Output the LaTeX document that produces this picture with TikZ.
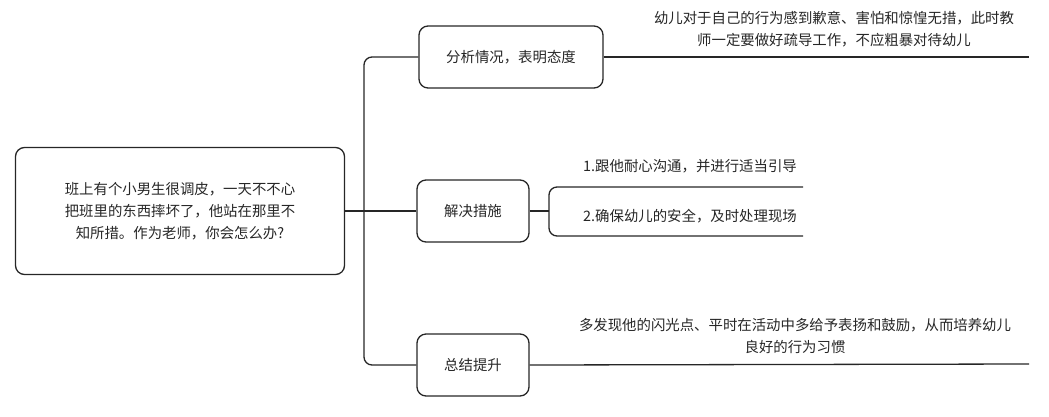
\documentclass[tikz,border=0pt]{standalone}
\usepackage{fontspec}
\setmainfont{Noto Sans CJK SC}
\usetikzlibrary{positioning, calc}

\begin{document}
\begin{tikzpicture}[x=1pt, y=-1pt,
    topic/.style={draw=black!85, line width=1.3pt, rounded corners=9pt, align=center,
        inner sep=0pt, font=\fontsize{14.4}{22}\selectfont, text=black!85},
    note/.style={align=center, inner sep=0pt, font=\fontsize{14.4}{22.5}\selectfont, text=black!85},
    link/.style={draw=black!85, line width=1.3pt, rounded corners=8pt}
  ]
    \useasboundingbox (0,0) rectangle (1049,416);

    % Central question
    \node[topic, minimum width=329pt, minimum height=127pt] (root) at (180,211)
        {班上有个小男生很调皮，一天不不心\\把班里的东西摔坏了，他站在那里不\\知所措。作为老师，你会怎么办?};

    % Three branches
    \node[topic, minimum width=184pt, minimum height=62pt] (analyse) at (511,57) {分析情况，表明态度};
    \node[topic, minimum width=112pt, minimum height=62pt] (solve) at (473,211) {解决措施};
    \node[topic, minimum width=112pt, minimum height=62pt] (sum) at (473,365) {总结提升};

    % Trunk
    \coordinate (fork) at (364,211);
    \draw[link] (root.east) -- (fork) -- (solve.west);
    \draw[link] (analyse.west) -| (fork) |- (sum.west);

    % Leaves of the first branch
    \coordinate (analyseend) at (1029,57);
    \draw[link] (analyse.east) -- (analyseend);
    \node[note] (analysetext) at (834,29)
        {幼儿对于自己的行为感到歉意、害怕和惊惶无措，此时教\\师一定要做好疏导工作，不应粗暴对待幼儿};

    % Leaves of the second branch
    \coordinate (brk) at (549,211);
    \coordinate (stepone) at (803,187);
    \coordinate (steptwo) at (803,236);
    \draw[link] (solve.east) -- (brk);
    \draw[link] (stepone) -- (brk |- stepone) -- (brk |- steptwo) -- (steptwo);
    \node[note] (steponetext) at (690,166) {1.跟他耐心沟通，并进行适当引导};
    \node[note] (steptwotext) at (690,216) {2.确保幼儿的安全，及时处理现场};

    % Leaves of the third branch
    \coordinate (sumend) at (1029,364);
    \draw[link] (sum.east) -- (sumend);
    \node[note] (sumtext) at (795,336)
        {多发现他的闪光点、平时在活动中多给予表扬和鼓励，从而培养幼儿\\良好的行为习惯};

\end{tikzpicture}
\end{document}
